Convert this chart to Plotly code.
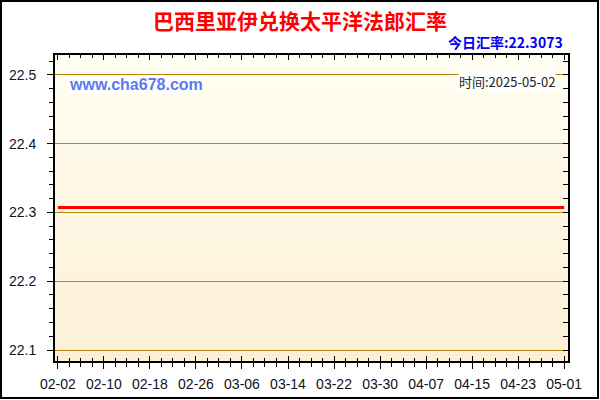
import pandas as pd
import plotly.graph_objects as go

# daily rate, 2025-02-02 .. 2025-05-01 (flat)
dates = pd.date_range("2025-02-02", "2025-05-01", freq="D")
rates = [
    22.3073, 22.3073, 22.3073, 22.3073, 22.3073, 22.3073, 22.3073, 22.3073, 22.3073, 22.3073,
    22.3073, 22.3073, 22.3073, 22.3073, 22.3073, 22.3073, 22.3073, 22.3073, 22.3073, 22.3073,
    22.3073, 22.3073, 22.3073, 22.3073, 22.3073, 22.3073, 22.3073, 22.3073, 22.3073, 22.3073,
    22.3073, 22.3073, 22.3073, 22.3073, 22.3073, 22.3073, 22.3073, 22.3073, 22.3073, 22.3073,
    22.3073, 22.3073, 22.3073, 22.3073, 22.3073, 22.3073, 22.3073, 22.3073, 22.3073, 22.3073,
    22.3073, 22.3073, 22.3073, 22.3073, 22.3073, 22.3073, 22.3073, 22.3073, 22.3073, 22.3073,
    22.3073, 22.3073, 22.3073, 22.3073, 22.3073, 22.3073, 22.3073, 22.3073, 22.3073, 22.3073,
    22.3073, 22.3073, 22.3073, 22.3073, 22.3073, 22.3073, 22.3073, 22.3073, 22.3073, 22.3073,
    22.3073, 22.3073, 22.3073, 22.3073, 22.3073, 22.3073, 22.3073, 22.3073, 22.3073,
]
tick_dates = ["2025-02-02", "2025-02-10", "2025-02-18", "2025-02-26", "2025-03-06", "2025-03-14",
              "2025-03-22", "2025-03-30", "2025-04-07", "2025-04-15", "2025-04-23", "2025-05-01"]
tick_labels = ["02-02", "02-10", "02-18", "02-26", "03-06", "03-14",
               "03-22", "03-30", "04-07", "04-15", "04-23", "05-01"]
y_ticks = [22.1, 22.2, 22.3, 22.4, 22.5]

title_text = "巴西里亚伊兑换太平洋法郎汇率"
today_text = "今日汇率:22.3073"
site_text = "www.cha678.com"
time_text = "时间:2025-05-02"

W, H = 600, 400
L, R, T, B = 55, 32, 55, 39
x_range = ["2025-02-01 12:00", "2025-05-01 16:00"]
y_range = [22.084, 22.529]
DAY2 = 2 * 86400000
tick_font = dict(family="Liberation Sans, Arial", size=14, color="#111122")

fig = go.Figure()

# main rate line
fig.add_trace(go.Scatter(x=dates, y=rates, mode="lines",
                         line=dict(color="#ff0000", width=3),
                         hoverinfo="skip", showlegend=False))
# invisible helpers so the mirrored axes get drawn
for xa, ya in [("x2", "y"), ("x3", "y"), ("x", "y2")]:
    fig.add_trace(go.Scatter(x=dates, y=rates, xaxis=xa, yaxis=ya, mode="lines",
                             line=dict(width=0), opacity=0, hoverinfo="skip",
                             showlegend=False))

# vertical gradient background of the plot area
top_c, bot_c = (255, 254, 242), (253, 240, 214)
n = 40
for i in range(n):
    t = i / (n - 1)
    c = tuple(round(top_c[k] + (bot_c[k] - top_c[k]) * t) for k in range(3))
    fig.add_shape(type="rect", xref="x domain", yref="y domain",
                  x0=0, x1=1, y0=1 - (i + 1) / n, y1=1 - i / n + 0.001,
                  fillcolor="rgb(%d,%d,%d)" % c, line_width=0, layer="below")

# outer frame around the whole image
pw, ph = W - L - R, H - T - B
fig.add_shape(type="rect", xref="paper", yref="paper",
              x0=-(L - 1) / pw, x1=1 + (R - 2) / pw,
              y0=-(B - 2) / ph, y1=1 + (T - 1) / ph,
              line=dict(color="black", width=2))

axis_common = dict(showline=True, linecolor="black", linewidth=2, tickcolor="black",
                   tickwidth=1, showgrid=False, zeroline=False, automargin=False)

fig.update_layout(
    width=W, height=H,
    margin=dict(l=L, r=R, t=T, b=B),
    paper_bgcolor="white",
    plot_bgcolor="#fffaea",
    showlegend=False,
    title=dict(text=title_text, x=0.5, xref="container", xanchor="center",
               y=1 - 22 / H, yanchor="middle", automargin=False,
               font=dict(family="Noto Sans CJK SC", size=21, color="#ff0000", weight="bold")),
    xaxis=dict(**axis_common, range=x_range, tickmode="array", tickvals=tick_dates,
               ticktext=tick_labels, ticks="outside", ticklen=6, tickfont=tick_font,
               ticklabelstandoff=3,
               minor=dict(dtick=DAY2, tick0="2025-02-02", ticks="outside", ticklen=4,
                          tickcolor="black", showgrid=False)),
    xaxis2=dict(**axis_common, range=x_range, overlaying="x", side="top", anchor="y",
                tickmode="array", tickvals=tick_dates, ticks="inside", ticklen=5,
                showticklabels=False,
                minor=dict(dtick=DAY2, tick0="2025-02-02", ticks="inside", ticklen=3,
                           tickcolor="black", showgrid=False)),
    xaxis3=dict(**axis_common, range=x_range, overlaying="x", side="bottom", anchor="y",
                tickmode="array", tickvals=tick_dates, ticks="inside", ticklen=5,
                showticklabels=False,
                minor=dict(dtick=DAY2, tick0="2025-02-02", ticks="inside", ticklen=3,
                           tickcolor="black", showgrid=False)),
    yaxis=dict(**{**axis_common, "showgrid": True}, range=y_range, tickmode="array",
               tickvals=y_ticks, ticktext=[f"{v:.1f}" for v in y_ticks],
               ticks="outside", ticklen=6, tickfont=tick_font, ticklabelstandoff=8,
               gridcolor="#b8860b", gridwidth=1,
               minor=dict(dtick=0.02, tick0=22.1, ticks="outside", ticklen=4,
                          tickcolor="black", showgrid=False)),
    yaxis2=dict(**axis_common, range=y_range, overlaying="y", side="right", anchor="x",
                tickmode="linear", tick0=22.1, dtick=0.02, ticks="inside", ticklen=5,
                showticklabels=False),
)

fig.add_annotation(text=today_text, xref="paper", yref="paper",
                   x=1 + (565 - 568) / pw, y=1 + (T - 42) / ph,
                   xanchor="right", yanchor="middle", showarrow=False,
                   font=dict(family="Noto Sans CJK SC", size=14, color="#0000ee", weight="bold"))
fig.add_annotation(text=site_text, xref="paper", yref="paper",
                   x=(68 - L) / pw, y=1 - (84 - T) / ph,
                   xanchor="left", yanchor="middle", showarrow=False, bgcolor="white",
                   borderpad=0,
                   font=dict(family="Liberation Sans, Arial", size=16, color="#5a7bef",
                             weight="bold"))
fig.add_annotation(text=time_text, xref="paper", yref="paper",
                   x=(556 - L) / pw, y=1 - (81 - T) / ph,
                   xanchor="right", yanchor="middle", showarrow=False, bgcolor="white",
                   borderpad=0,
                   font=dict(family="Noto Sans CJK SC", size=13, color="#222222"))

# drop the default page margin so the 600x400 figure sits at the window origin
fig.write_html("out.html", config={"displayModeBar": False},
               post_script="document.body.style.margin='0';")
